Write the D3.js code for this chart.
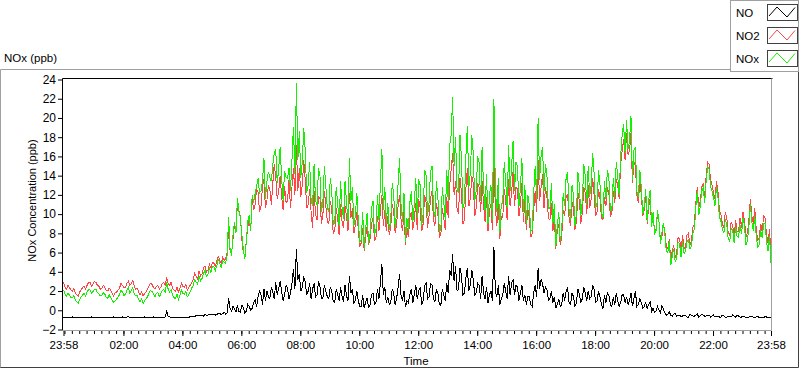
<!DOCTYPE html>
<html>
<head>
<meta charset="utf-8">
<script src="https://cdn.jsdelivr.net/npm/d3@7"></script>
<style>
  body { margin: 0; background: #fff; }
  svg { display: block; font-family: "Liberation Sans", Arial, sans-serif; }
  .axis text { fill: #000; }
  .axis line { stroke: #000; }
  .axis path { display: none; }
</style>
</head>
<body>
<svg width="800" height="369"></svg>
<script>
// sample grid: a reading every 6 minutes from 23:58, plus one half-way (+3 min)
var startTime = new Date(2021, 0, 1, 23, 58);
var stepMinutes = 6;

var seriesNames = ["NO", "NO2", "NOx"];
var seriesColors = ["#000000", "#ff4545", "#14f000"];

var yTicks = [-2, 0, 2, 4, 6, 8, 10, 12, 14, 16, 18, 20, 22, 24];
var xTickLabels = ["23:58", "02:00", "04:00", "06:00", "08:00", "10:00", "12:00",
                   "14:00", "16:00", "18:00", "20:00", "22:00", "23:58"];

// NO (ppb), one row per hour
var no = [
  -0.8, -0.75, -0.8, -0.7, -0.75, -0.8, -0.7, -0.75, -0.7, -0.8,
  -0.75, -0.7, -0.8, -0.75, -0.7, -0.75, -0.8, -0.7, -0.75, -0.7,
  -0.7, -0.75, -0.65, -0.7, -0.8, -0.75, -0.7, -0.8, -0.75, -0.7,
  -0.75, -0.8, -0.75, -0.7, -0.75, -0.1, -0.7, -0.75, -0.8, -0.75,
  -0.7, -0.75, -0.7, -0.65, -0.6, -0.55, -0.6, -0.5, -0.45, -0.5,
  -0.5, -0.4, -0.45, -0.3, -0.35, -0.4, 1.3, -0.1, 0.2, 0.5,
  -0.2, 0.3, -0.1, 0.4, 0.2, 1.1, 1.4, 1.6, 2.2, 2.0,
  1.2, 1.9, 2.9, 2.3, 1.9, 1.6, 2.3, 1.8, 4.3, 6.4,
  3.8, 2.4, 3.0, 2.0, 1.2, 2.8, 1.6, 2.4, 1.3, 2.0,
  1.2, 2.0, 0.8, 1.6, 2.4, 0.9, 1.5, 3.6, 2.2, 1.0,
  1.0, 0.4, 0.2, 1.3, 0.6, 1.8, 0.8, 1.2, 4.8, 2.4,
  1.4, 0.8, 1.8, 1.2, 3.8, 1.0, 0.3, 0.8, 2.2, 1.6,
  1.2, 2.4, 1.0, 2.8, 1.4, 2.6, 0.9, 1.8, 0.5, 1.6,
  2.8, 4.2, 5.8, 4.6, 2.2, 3.6, 1.8, 4.4, 2.6, 3.2,
  1.8, 2.6, 3.6, 1.2, 0.8, 2.0, 6.6, 1.4, 0.6, 1.6,
  2.0, 3.6, 2.8, 1.6, 2.4, 1.8, 1.0, 0.6, 1.4, 0.4,
  2.6, 4.4, 3.2, 1.8, 2.2, 1.2, 0.8, 0.2, 1.2, 0.6,
  1.0, 2.4, 0.6, 1.4, 0.8, 1.6, 1.2, 1.8, 2.0, 1.4,
  2.2, 1.0, 1.4, 0.2, 0.8, 1.6, 0.4, 0.6, 1.0, 0.8,
  1.6, 1.4, 1.0, 0.4, 2.0, 0.6, 0.8, 0.4, 0.2, 0.9,
  0.2, -0.1, 0.0, 0.5, -0.3, -0.4, -0.5, -0.4, -0.6, -0.5,
  -0.6, -0.5, -0.7, -0.5, -0.6, -0.4, -0.6, -0.5, -0.6, -0.5,
  -0.6, -0.7, -0.6, -0.7, -0.6, -0.7, -0.6, -0.5, -0.7, -0.6,
  -0.7, -0.6, -0.8, -0.6, -0.7, -0.7, -0.8, -0.7, -0.6, -0.8,
  -0.7
];
var noMid = [
  -0.7, -0.8, -0.75, -0.8, -0.7, -0.75, -0.8, -0.7, -0.75, -0.7,
  -0.8, -0.75, -0.7, -0.8, -0.75, -0.7, -0.75, -0.8, -0.7, -0.75,
  -0.75, -0.7, -0.8, -0.75, -0.7, -0.8, -0.75, -0.7, -0.8, -0.75,
  -0.7, -0.75, -0.8, -0.75, -0.7, -0.6, -0.75, -0.8, -0.7, -0.7,
  -0.75, -0.7, -0.75, -0.6, -0.65, -0.5, -0.55, -0.6, -0.5, -0.4,
  -0.4, -0.5, -0.3, -0.45, -0.2, -0.3, 0.2, 0.4, -0.2, -0.1,
  0.5, -0.3, 0.6, 0.0, 0.8, 0.3, 2.0, 0.6, 1.0, 1.4,
  2.4, 1.2, 1.6, 3.0, 1.0, 2.6, 1.2, 2.8, 2.2, 3.2,
  2.0, 3.4, 1.6, 2.8, 2.2, 1.4, 3.0, 1.2, 2.6, 1.4,
  2.4, 0.9, 2.2, 1.0, 1.4, 2.6, 1.0, 1.8, 0.8, 2.0,
  0.4, 1.6, 0.9, 0.2, 1.6, 0.6, 2.2, 2.8, 1.6, 0.8,
  0.6, 2.2, 0.6, 2.4, 1.6, 2.0, 1.0, 1.6, 0.8, 2.6,
  2.0, 0.6, 2.6, 1.2, 2.8, 1.2, 2.2, 0.6, 2.2, 1.0,
  1.8, 3.6, 3.0, 2.0, 4.4, 1.6, 3.4, 2.0, 4.2, 1.6,
  2.8, 1.2, 1.8, 2.4, 1.6, 1.0, 2.0, 2.6, 1.2, 2.8,
  1.2, 1.6, 3.2, 2.6, 1.0, 2.6, 1.6, 1.4, 0.6, 1.8,
  1.4, 2.2, 2.8, 2.4, 1.0, 2.0, 1.4, 0.6, 0.4, 1.8,
  2.0, 0.8, 1.8, 0.4, 2.2, 0.8, 2.4, 1.0, 1.2, 2.6,
  0.8, 2.0, 0.6, 1.6, 1.8, 0.6, 1.4, 1.8, 0.4, 1.6,
  0.8, 0.6, 1.8, 1.2, 0.4, 1.2, 0.2, 0.8, 0.6, -0.1,
  -0.2, 0.4, -0.3, 0.1, -0.5, -0.2, -0.6, -0.3, -0.5, -0.7,
  -0.5, -0.7, -0.4, -0.6, -0.5, -0.7, -0.4, -0.6, -0.5, -0.7,
  -0.5, -0.6, -0.7, -0.5, -0.7, -0.6, -0.7, -0.6, -0.5, -0.7,
  -0.6, -0.8, -0.7, -0.6, -0.8, -0.6, -0.7, -0.8, -0.7, -0.7
];

// NO2 (ppb)
var no2 = [
  2.9, 2.2, 2.4, 2.0, 1.8, 1.5, 2.1, 2.5, 2.6, 2.9,
  2.7, 2.9, 2.5, 2.3, 2.4, 2.0, 2.1, 1.5, 1.9, 2.3,
  2.6, 2.4, 3.0, 2.8, 2.5, 2.3, 1.6, 1.5, 1.9, 2.5,
  2.7, 2.2, 2.6, 2.4, 2.9, 3.4, 2.6, 2.3, 2.0, 1.9,
  2.8, 2.4, 2.1, 2.6, 3.2, 3.5, 4.1, 3.8, 4.6, 4.2,
  4.4, 4.9, 5.1, 5.2, 5.5, 5.3, 8.4, 5.8, 9.0, 11.2,
  9.8, 6.0, 7.2, 9.5, 11.8, 11.0, 12.3, 10.8, 13.6, 11.4,
  12.6, 13.2, 13.8, 12.4, 11.8, 12.9, 11.4, 10.6, 14.8, 17.2,
  14.8, 13.0, 13.6, 11.0, 10.2, 12.4, 9.4, 11.6, 10.0, 10.8,
  9.0, 10.4, 8.2, 9.6, 11.0, 8.6, 9.8, 12.2, 10.6, 8.8,
  8.4, 7.0, 6.2, 8.8, 7.4, 9.6, 7.6, 8.2, 12.0, 10.4,
  9.8, 8.6, 10.4, 9.0, 12.0, 8.2, 6.8, 7.6, 10.2, 9.4,
  8.4, 10.6, 9.0, 11.2, 9.8, 12.4, 8.8, 10.0, 7.8, 9.6,
  11.8, 13.0, 16.4, 13.4, 10.0, 12.2, 9.4, 14.8, 11.6, 13.2,
  10.6, 12.8, 13.4, 9.2, 8.2, 11.0, 15.4, 8.8, 7.4, 9.6,
  11.4, 13.6, 12.2, 10.8, 12.6, 11.0, 9.2, 8.4, 9.6, 8.0,
  12.4, 15.6, 12.8, 10.6, 11.8, 9.4, 8.2, 6.4, 9.0, 7.6,
  9.8, 12.0, 8.8, 10.6, 9.2, 11.4, 10.2, 12.2, 13.0, 11.6,
  12.0, 10.2, 11.6, 9.4, 10.8, 12.2, 10.0, 11.2, 13.0, 15.2,
  17.8, 18.4, 16.6, 13.2, 15.0, 11.2, 12.0, 10.4, 9.0, 11.6,
  10.0, 8.4, 9.2, 7.6, 8.2, 6.4, 5.2, 6.8, 6.0, 7.4,
  7.8, 6.6, 8.0, 7.2, 9.0, 12.8, 11.4, 13.2, 14.0, 15.2,
  13.0, 11.6, 12.4, 10.0, 8.6, 9.6, 7.8, 8.8, 9.4, 8.2,
  8.6, 9.4, 8.0, 11.6, 9.0, 8.4, 7.6, 8.2, 9.6, 7.0,
  5.6
];
var no2Mid = [
  2.4, 2.6, 2.1, 2.3, 1.6, 1.9, 2.4, 2.2, 2.9, 2.5,
  3.0, 2.6, 2.2, 2.6, 2.1, 2.3, 1.8, 1.8, 2.1, 2.8,
  2.3, 2.8, 2.6, 3.1, 2.2, 1.9, 1.9, 1.7, 2.2, 2.8,
  2.4, 2.5, 2.2, 2.8, 2.6, 2.8, 2.9, 2.1, 2.4, 2.3,
  2.5, 2.7, 2.4, 2.9, 3.8, 3.2, 3.6, 4.4, 4.0, 4.8,
  5.0, 4.6, 5.6, 4.9, 5.2, 6.0, 6.2, 7.4, 8.2, 10.4,
  7.4, 5.6, 8.6, 8.2, 10.4, 12.6, 10.2, 12.8, 10.6, 13.0,
  11.0, 15.2, 11.6, 14.0, 10.4, 11.2, 13.6, 12.8, 12.0, 12.4,
  11.8, 15.6, 10.6, 12.6, 8.6, 10.0, 11.8, 9.0, 12.4, 9.2,
  11.4, 8.0, 10.6, 7.8, 9.2, 10.8, 8.2, 9.6, 8.0, 10.2,
  6.6, 8.6, 7.6, 6.8, 9.0, 7.2, 9.8, 10.4, 8.8, 8.2,
  7.8, 11.0, 8.0, 10.8, 9.4, 10.2, 8.6, 9.6, 8.4, 11.2,
  11.6, 8.2, 12.0, 8.6, 11.6, 9.4, 11.2, 7.6, 10.6, 8.4,
  9.6, 14.6, 12.0, 10.6, 13.8, 9.0, 12.6, 10.8, 14.0, 9.8,
  13.2, 10.2, 11.0, 11.8, 10.4, 8.4, 10.6, 11.2, 9.8, 12.6,
  9.4, 10.8, 14.4, 12.8, 9.8, 13.2, 11.4, 10.6, 7.6, 10.4,
  10.2, 11.4, 14.2, 12.8, 9.6, 11.2, 9.6, 8.2, 6.8, 10.4,
  11.8, 9.6, 11.2, 8.4, 12.2, 9.0, 12.8, 10.0, 10.6, 13.8,
  9.8, 12.6, 9.6, 11.8, 12.8, 9.8, 12.4, 13.6, 11.6, 16.6,
  15.6, 16.2, 18.4, 15.4, 12.0, 13.4, 9.8, 11.8, 10.8, 8.8,
  8.2, 10.0, 7.2, 9.0, 6.6, 7.4, 6.2, 5.4, 7.6, 6.2,
  6.4, 7.8, 6.8, 8.6, 11.2, 10.6, 12.8, 11.8, 15.4, 13.6,
  12.2, 13.4, 10.4, 9.0, 10.2, 8.0, 9.2, 7.6, 8.2, 9.6,
  10.2, 7.6, 9.4, 9.8, 10.6, 7.2, 9.0, 9.8, 7.8, 8.4
];

// NOx (ppb)
var nox = [
  2.1, 1.45, 1.6, 1.3, 1.05, 0.7, 1.4, 1.75, 1.9, 2.1,
  1.95, 2.2, 1.7, 1.55, 1.7, 1.25, 1.3, 0.8, 1.15, 1.6,
  1.9, 1.65, 2.35, 2.1, 1.7, 1.55, 0.9, 0.7, 1.15, 1.8,
  1.95, 1.4, 1.85, 1.7, 2.15, 2.9, 1.9, 1.55, 1.2, 1.15,
  2.1, 1.65, 1.4, 1.95, 2.6, 2.95, 3.5, 3.3, 4.15, 3.7,
  3.9, 4.5, 4.65, 4.9, 5.15, 4.9, 9.7, 5.7, 9.2, 11.7,
  9.6, 6.3, 7.1, 9.9, 12.0, 12.1, 13.7, 12.4, 15.8, 13.4,
  13.8, 15.1, 16.7, 14.7, 13.7, 14.5, 13.7, 12.4, 19.1, 23.6,
  18.6, 15.4, 16.6, 13.0, 11.4, 15.2, 11.0, 14.0, 11.3, 12.8,
  10.2, 12.4, 9.0, 11.2, 13.4, 9.5, 11.3, 15.8, 12.8, 9.8,
  9.4, 7.4, 6.4, 10.1, 8.0, 11.4, 8.4, 9.4, 16.8, 12.8,
  11.2, 9.4, 12.2, 10.2, 15.8, 9.2, 7.1, 8.4, 12.4, 11.0,
  9.6, 13.0, 10.0, 14.0, 11.2, 15.0, 9.7, 11.8, 8.3, 11.2,
  14.6, 17.2, 22.2, 18.0, 12.2, 15.8, 11.2, 19.2, 14.2, 16.4,
  12.4, 15.4, 17.0, 10.4, 9.0, 13.0, 22.0, 10.2, 8.0, 11.2,
  13.4, 17.2, 15.0, 12.4, 15.0, 12.8, 10.2, 9.0, 11.0, 8.4,
  15.0, 20.0, 16.0, 12.4, 14.0, 10.6, 9.0, 6.6, 10.2, 8.2,
  10.8, 14.4, 9.4, 12.0, 10.0, 13.0, 11.4, 14.0, 15.0, 13.0,
  14.2, 11.2, 13.0, 9.6, 11.6, 13.8, 10.4, 11.8, 14.0, 16.0,
  19.4, 19.8, 17.6, 13.6, 17.0, 11.8, 12.8, 10.8, 9.2, 12.5,
  10.2, 8.3, 9.2, 8.1, 7.9, 6.0, 4.7, 6.4, 5.4, 6.9,
  7.2, 6.1, 7.3, 6.7, 8.4, 12.4, 10.8, 12.7, 13.4, 14.7,
  12.4, 10.9, 11.8, 9.3, 8.0, 8.9, 7.2, 8.3, 8.7, 7.6,
  7.9, 8.8, 7.2, 11.0, 8.3, 7.7, 6.8, 7.5, 9.0, 6.2,
  4.9
];
var noxMid = [
  1.7, 1.8, 1.35, 1.5, 0.9, 1.15, 1.6, 1.5, 2.15, 1.8,
  2.2, 1.85, 1.5, 1.8, 1.35, 1.6, 1.05, 1.0, 1.4, 2.05,
  1.55, 2.1, 1.8, 2.35, 1.5, 1.1, 1.15, 1.0, 1.4, 2.05,
  1.7, 1.75, 1.4, 2.05, 1.9, 2.2, 2.15, 1.3, 1.7, 1.6,
  1.75, 2.0, 1.65, 2.3, 3.15, 2.7, 3.05, 3.8, 3.5, 4.4,
  4.6, 4.1, 5.3, 4.45, 5.0, 5.7, 6.4, 7.8, 8.0, 10.3,
  7.9, 5.3, 9.2, 8.2, 11.2, 12.9, 12.2, 13.4, 11.6, 14.4,
  13.4, 16.4, 13.2, 17.0, 11.4, 13.8, 14.8, 15.6, 14.2, 15.6,
  13.8, 19.0, 12.2, 15.4, 10.8, 11.4, 14.8, 10.2, 15.0, 10.6,
  13.8, 8.9, 12.8, 8.8, 10.6, 13.4, 9.2, 11.4, 8.8, 12.2,
  7.0, 10.2, 8.5, 7.0, 10.6, 7.8, 12.0, 13.2, 10.4, 9.0,
  8.4, 13.2, 8.6, 13.2, 11.0, 12.2, 9.6, 11.2, 9.2, 13.8,
  13.6, 8.8, 14.6, 9.8, 14.4, 10.6, 13.4, 8.2, 12.8, 9.4,
  11.4, 18.2, 15.0, 12.6, 18.2, 10.6, 16.0, 12.8, 18.2, 11.4,
  16.0, 11.4, 12.8, 14.2, 12.0, 9.4, 12.6, 13.8, 11.0, 15.4,
  10.6, 12.4, 17.6, 15.4, 10.8, 15.8, 13.0, 12.0, 8.2, 12.2,
  11.6, 13.6, 17.0, 15.2, 10.6, 13.2, 11.0, 8.8, 7.2, 12.2,
  13.8, 10.4, 13.0, 8.8, 14.4, 9.8, 15.2, 11.0, 11.8, 16.4,
  10.6, 14.6, 10.2, 13.4, 14.6, 10.4, 13.8, 15.4, 12.0, 18.2,
  16.4, 16.8, 20.2, 16.6, 12.4, 14.6, 10.0, 12.6, 11.4, 8.7,
  8.0, 10.4, 6.9, 9.1, 6.1, 7.2, 5.6, 5.1, 7.1, 5.5,
  5.9, 7.1, 6.4, 8.0, 10.7, 9.9, 12.4, 11.2, 14.9, 12.9,
  11.7, 12.8, 9.7, 8.5, 9.5, 7.4, 8.5, 7.0, 7.7, 8.9,
  9.6, 6.8, 8.7, 9.2, 9.8, 6.6, 8.3, 9.0, 7.1, 7.7
];

var svg = d3.select("svg");

var plotLeft = 62.5, plotRight = 771.5, plotTop = 78.5, plotBottom = 330.5;

var endTime = new Date(startTime.getTime() + (no.length - 1) * stepMinutes * 60000);

var x = d3.scaleTime()
  .domain([startTime, endTime])
  .range([63.5, 771]);

var y = d3.scaleLinear()
  .domain([-2, 24])
  .range([329.5, 79.5]);

// put the on-grid and half-way readings in time order
function toPoints(vals, mids) {
  var pts = [];
  vals.forEach(function(v, i) {
    pts.push({ t: new Date(startTime.getTime() + i * stepMinutes * 60000), v: v });
    if (i < mids.length)
      pts.push({ t: new Date(startTime.getTime() + (i * stepMinutes + 3) * 60000), v: mids[i] });
  });
  return pts;
}

// outer panel frame
svg.append("path")
  .attr("d", "M0.5,368 V69.5 H731")
  .attr("fill", "none")
  .attr("stroke", "#a0a0a0");
svg.append("path")
  .attr("d", "M0.5,367.5 H798.5 V69.5")
  .attr("fill", "none")
  .attr("stroke", "#404040");

// chart title above the frame
svg.append("text")
  .attr("x", 4)
  .attr("y", 62)
  .style("font-size", "11.5px")
  .text("NOx (ppb)");

// plot area border: dark top/left, grey right/bottom
svg.append("path")
  .attr("d", "M" + plotLeft + "," + plotBottom + " V" + plotTop + " H" + (plotRight + 1))
  .attr("fill", "none")
  .attr("stroke", "#000");
svg.append("path")
  .attr("d", "M" + plotRight + "," + plotTop + " V" + plotBottom + " H" + plotLeft)
  .attr("fill", "none")
  .attr("stroke", "#a0a0a0");

// y axis
svg.append("g")
  .attr("class", "axis")
  .attr("transform", "translate(62,0)")
  .style("font-size", "12px")
  .call(d3.axisLeft(y).tickValues(yTicks).tickSize(4).tickPadding(2));

// x axis, minor ticks every 15 minutes
var minorTicks = d3.timeMinute.every(15).range(new Date(2021, 0, 2, 0, 0), endTime);
svg.append("g")
  .attr("class", "axis")
  .attr("transform", "translate(0,331)")
  .call(d3.axisBottom(x).tickValues(minorTicks).tickSize(3).tickFormat(""));

var majorTicks = xTickLabels.map(function(lbl, i) {
  if (i == 0) return startTime;
  if (i == xTickLabels.length - 1) return endTime;
  var hm = lbl.split(":");
  return new Date(2021, 0, 2, +hm[0], +hm[1]);
});
svg.append("g")
  .attr("class", "axis")
  .attr("transform", "translate(0,331)")
  .style("font-size", "11.5px")
  .call(d3.axisBottom(x).tickValues(majorTicks).tickSize(5).tickPadding(5)
    .tickFormat(function(d, i) { return xTickLabels[i]; }));

// axis titles
svg.append("text")
  .attr("transform", "translate(36," + ((plotTop + plotBottom) / 2 - 4) + ") rotate(-90)")
  .attr("text-anchor", "middle")
  .style("font-size", "11px")
  .text("NOx Concentration (ppb)");

svg.append("text")
  .attr("x", 416)
  .attr("y", 365)
  .attr("text-anchor", "middle")
  .style("font-size", "11.5px")
  .text("Time");

// the three traces, drawn aliased like the original instrument plot
var line = d3.line()
  .x(function(d) { return x(d.t); })
  .y(function(d) { return y(d.v); });

var allSeries = [[no, noMid], [no2, no2Mid], [nox, noxMid]];
allSeries.forEach(function(s, k) {
  svg.append("path")
    .datum(toPoints(s[0], s[1]))
    .attr("d", line)
    .attr("fill", "none")
    .attr("stroke", seriesColors[k])
    .attr("stroke-width", 1)
    .attr("shape-rendering", "crispEdges");
});

// legend box
var legend = svg.append("g");
legend.append("rect")
  .attr("x", 730.5).attr("y", 0.5)
  .attr("width", 68).attr("height", 71)
  .attr("fill", "#fff")
  .attr("stroke", "#a0a0a0");

seriesNames.forEach(function(name, k) {
  var top = 4 + k * 23;
  legend.append("text")
    .attr("x", 736)
    .attr("y", top + 13)
    .style("font-size", "11.5px")
    .text(name);
  legend.append("rect")
    .attr("x", 767.5).attr("y", top + 0.5)
    .attr("width", 30).attr("height", 16)
    .attr("fill", "#fff")
    .attr("stroke", "#404040");
  legend.append("path")
    .attr("d", "M769," + (top + 12) + " L777," + (top + 3) + " L787," + (top + 13) + " L795," + (top + 3.5))
    .attr("fill", "none")
    .attr("stroke", seriesColors[k]);
});
</script>
</body>
</html>
